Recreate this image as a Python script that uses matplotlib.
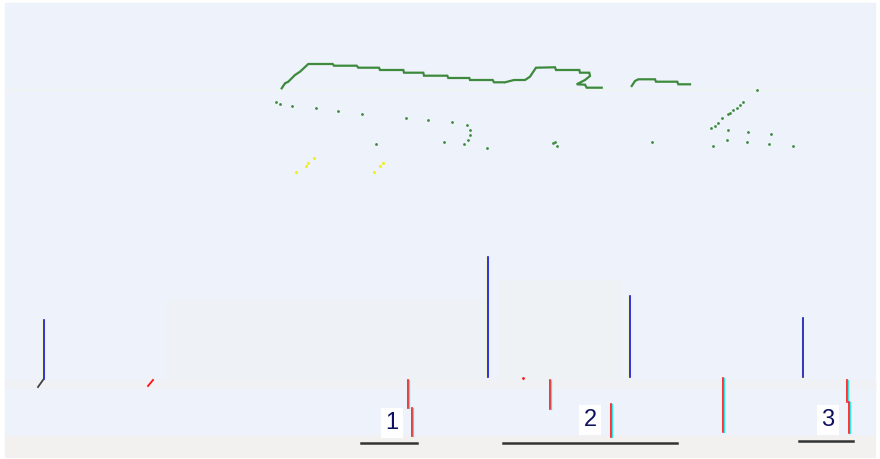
import numpy as np
import matplotlib.pyplot as plt
from matplotlib.patches import Rectangle

# ---- data (pixel space) ----
trace_x = [281.7, 285, 288.3, 295, 300, 308.3, 332.7, 334, 356.7, 358.3, 379, 380,
           403.3, 404, 423.3, 424, 447.3, 448.3, 469.3, 470, 492.7, 494, 503.3]
trace_y = [88.3, 83.3, 81.7, 75, 71.7, 64, 64, 65.7, 65.7, 67.7, 67.7, 70,
           70, 72.7, 72.7, 75.7, 75.7, 78, 78, 80, 80, 82.3, 82.3]
trace2_x = [505, 514, 525, 530, 533.3, 536, 555, 556, 579.3, 580, 589.3,
            590, 585, 576.7, 585, 586.7, 601.7]
trace2_y = [82.3, 80, 80, 76.7, 71.7, 67.7, 67.3, 70, 70, 72.7, 72.7,
            76, 80, 84.3, 84.7, 87.7, 87.7]
trace3_x = [631.7, 635, 638.3, 655, 656, 677.3, 678.3, 690]
trace3_y = [86, 81, 79.3, 79.3, 81.7, 81.7, 84.3, 84.3]

dots_x = [276, 280, 292.3, 316, 338.3, 362.3, 406, 428.3, 452.3, 466.7, 470, 470,
          468.3, 444.3, 464.3, 486.7, 376, 552.7, 554.7, 556.7, 756.7,
          743.3, 740, 736.7, 733.3, 730, 728.3, 710.7, 715, 718.3, 721.7,
          728.3, 748.3, 770.7, 726.7, 746.7, 768.7, 712.7, 792.7, 652.3]
dots_y = [102, 104, 106, 108.3, 110.7, 114, 118.3, 120, 122, 125, 130, 135,
          140, 142.3, 144, 147.5, 144, 143.3, 141.7, 146.3, 90,
          101.7, 104.5, 107.5, 110, 112.5, 114.3, 128.3, 126, 123.3, 118.3,
          130, 132, 134, 140, 142, 144.3, 146, 146, 142]

yellow_x = [296, 306, 308.3, 314, 374, 380, 382.7]
yellow_y = [172.3, 166, 162.7, 158, 172.3, 166, 162.7]

# vertical stems: x, top, bottom
blue_x = [43.3, 488, 630, 802.7]
blue_top = [320, 257, 296, 318]
blue_bot = [379, 377, 377, 377]

red_x = [408.3, 412.3, 550, 610.7, 722.7, 847.3, 849.3]
red_top = [380, 408, 380, 404, 378, 380, 402]
red_bot = [408, 436, 409, 437, 432, 402, 433]

labels = ['1', '2', '3']
label_x = [392, 590, 828]
label_y = [423, 420, 420]
under_x0 = [360.7, 503.3, 799.3]
under_x1 = [417.3, 676.7, 853.3]
under_y = [442.7, 442.7, 440.7]

fig = plt.figure(figsize=(8.8, 4.59), dpi=100)
fig.patch.set_facecolor('white')
ax = fig.add_axes([0, 0, 1, 1])
ax.set_xlim(0, 880)
ax.set_ylim(459, 0)
ax.axis('off')

# background panels
ax.add_patch(Rectangle((5, 3), 870, 433, color='#eef2fb', zorder=0))
ax.add_patch(Rectangle((5, 436), 870, 21, color='#f3f0f0', zorder=0))
ax.add_patch(Rectangle((165, 300), 320, 80, color='#eef2f7', zorder=0))
ax.add_patch(Rectangle((500, 280), 120, 100, color='#eef2f5', zorder=0))
ax.add_patch(Rectangle((5, 380), 870, 8, color='#f0f1f5', zorder=0))
ax.plot([5, 875], [90, 90], color='#f1f5ee', lw=1.2, zorder=1)

# green trace and scatter
for xs, ys in [(trace_x, trace_y), (trace2_x, trace2_y), (trace3_x, trace3_y)]:
    ax.plot(xs, ys, color='#3d8a3d', lw=1.6, solid_joinstyle='miter', zorder=3)
ax.scatter(dots_x, dots_y, s=4, color='#3d8a3d', linewidths=0, zorder=3)
ax.scatter(yellow_x, yellow_y, s=5, color='#f0f020', linewidths=0, zorder=3)

# stems
for x, t, b in zip(blue_x, blue_top, blue_bot):
    ax.plot([x - 0.8, x - 0.8], [t, b], color='#ffff00', lw=1.0, zorder=4)
    ax.plot([x + 0.4, x + 0.4], [t, b], color='#1010e0', lw=1.2, zorder=4)
for x, t, b in zip(red_x, red_top, red_bot):
    ax.plot([x, x], [t, b], color='#ff1010', lw=1.2, zorder=4)
    ax.plot([x + 1.1, x + 1.1], [t, b], color='#30e8e8', lw=0.9, zorder=4)

ax.plot([38, 43], [387, 380], color='#404040', lw=1.3, zorder=4)
ax.plot([148, 153], [386, 380], color='#ff1010', lw=1.3, zorder=4)
ax.scatter([522.7], [378], s=4, color='#ff1010', linewidths=0, zorder=4)

# numbered labels with underline
for lbl, x, y, x0, x1, uy in zip(labels, label_x, label_y, under_x0, under_x1, under_y):
    ax.text(x, y, lbl, ha='center', va='center', fontsize=17, color='#101060',
            family='Liberation Sans', zorder=5,
            bbox=dict(facecolor='white', edgecolor='none', pad=3))
    ax.plot([x0, x1], [uy, uy], color='#333333', lw=1.8, zorder=5)

fig.savefig('out.png', dpi=100, facecolor=fig.get_facecolor())
